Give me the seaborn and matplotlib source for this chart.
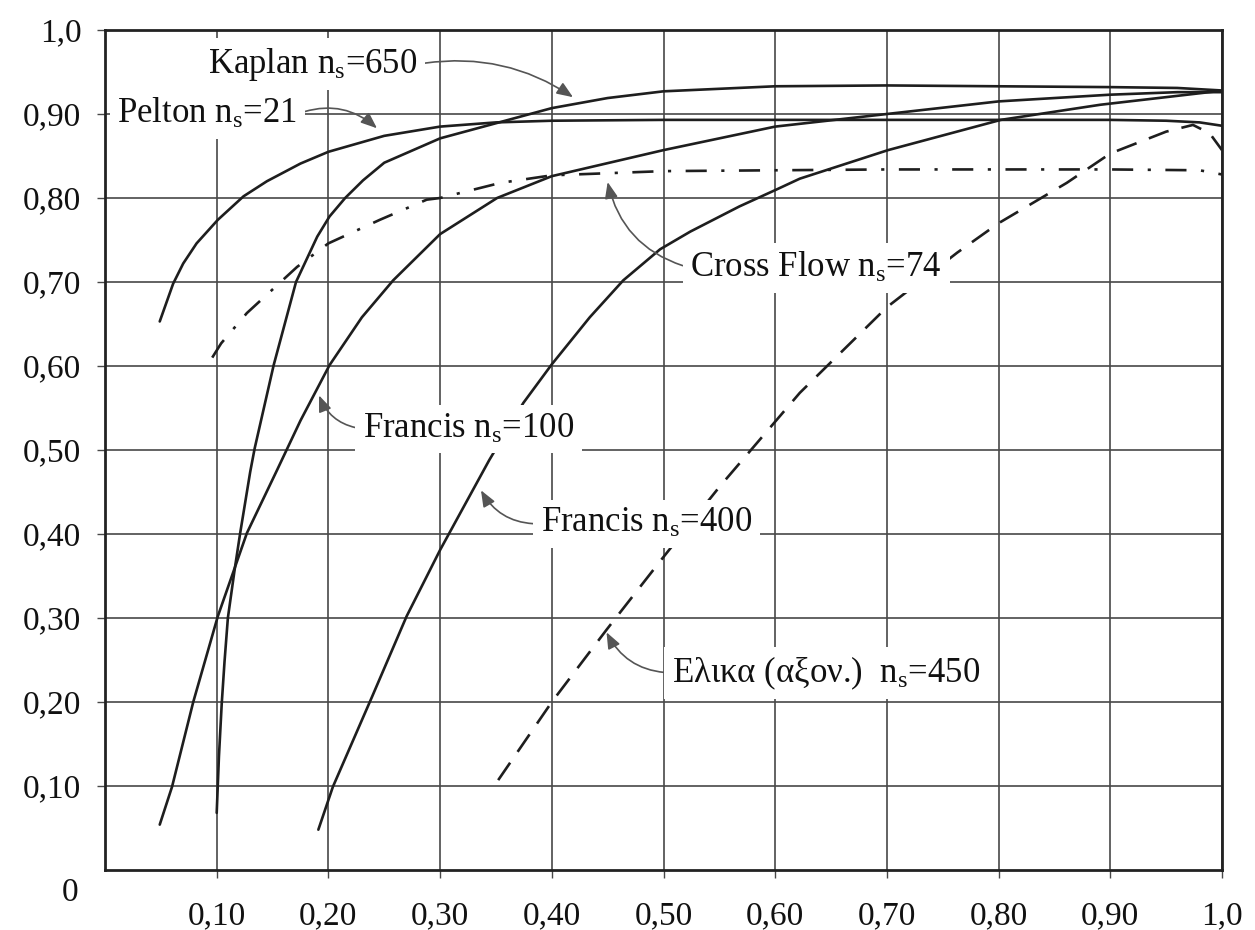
import numpy as np
import matplotlib
matplotlib.use("Agg")
import matplotlib.pyplot as plt
import seaborn as sns

# relative flow Q/Qn on x, efficiency on y
pelton_x = [0.049, 0.061, 0.070, 0.082, 0.101, 0.124, 0.145, 0.175, 0.20, 0.25, 0.30, 0.35,
            0.40, 0.50, 0.60, 0.70, 0.80, 0.90, 0.95, 0.98, 1.00]
pelton_y = [0.653, 0.698, 0.722, 0.746, 0.774, 0.802, 0.820, 0.841, 0.855, 0.874, 0.885,
            0.890, 0.892, 0.893, 0.893, 0.893, 0.893, 0.893, 0.892, 0.890, 0.886]

kaplan_x = [0.100, 0.102, 0.1045, 0.107, 0.110, 0.116, 0.121, 0.130, 0.134, 0.151, 0.171,
            0.190, 0.201, 0.215, 0.231, 0.25, 0.30, 0.35, 0.40, 0.45, 0.50, 0.60, 0.70,
            0.80, 0.90, 0.96, 1.00]
kaplan_y = [0.068, 0.135, 0.198, 0.248, 0.300, 0.357, 0.401, 0.474, 0.502, 0.601, 0.700,
            0.754, 0.778, 0.800, 0.821, 0.842, 0.871, 0.889, 0.907, 0.919, 0.927, 0.933,
            0.934, 0.933, 0.932, 0.931, 0.928]

francis100_x = [0.049, 0.060, 0.079, 0.101, 0.127, 0.154, 0.175, 0.201, 0.23, 0.258,
                0.30, 0.351, 0.40, 0.50, 0.60, 0.70, 0.80, 0.90, 0.96, 1.00]
francis100_y = [0.054, 0.099, 0.200, 0.302, 0.401, 0.476, 0.535, 0.601, 0.658, 0.702,
                0.757, 0.800, 0.826, 0.857, 0.885, 0.900, 0.915, 0.923, 0.926, 0.926]

francis400_x = [0.191, 0.204, 0.239, 0.270, 0.300, 0.344, 0.3745, 0.40, 0.434, 0.464, 0.497,
                0.524, 0.568, 0.601, 0.622, 0.701, 0.802, 0.891, 0.995, 1.00]
francis400_y = [0.048, 0.099, 0.206, 0.302, 0.381, 0.488, 0.556, 0.602, 0.658, 0.702, 0.739,
                0.760, 0.790, 0.810, 0.823, 0.857, 0.893, 0.911, 0.927, 0.927]

crossflow_x = [0.096, 0.104, 0.127, 0.172, 0.20, 0.246, 0.288, 0.30, 0.354, 0.40, 0.50, 0.60,
               0.70, 0.80, 0.90, 0.98, 1.00]
crossflow_y = [0.610, 0.627, 0.663, 0.718, 0.746, 0.774, 0.798, 0.800, 0.818, 0.827, 0.832,
               0.833, 0.834, 0.834, 0.834, 0.833, 0.828]

helix_x = [0.352, 0.40, 0.449, 0.499, 0.55, 0.622, 0.70, 0.763, 0.80, 0.861, 0.90,
           0.95, 0.974, 0.989, 1.00]
helix_y = [0.107, 0.200, 0.286, 0.371, 0.456, 0.568, 0.670, 0.735, 0.770, 0.818, 0.853,
           0.879, 0.887, 0.877, 0.857]

tick_vals = [0.1, 0.2, 0.3, 0.4, 0.5, 0.6, 0.7, 0.8, 0.9, 1.0]
tick_text = ["0,10", "0,20", "0,30", "0,40", "0,50", "0,60", "0,70", "0,80", "0,90", "1,0"]

sns.set_theme(style="white")
plt.rcParams["font.family"] = ["Liberation Serif", "DejaVu Serif"]
plt.rcParams["mathtext.fontset"] = "custom"
plt.rcParams["mathtext.rm"] = "Liberation Serif"
plt.rcParams["mathtext.it"] = "Liberation Serif:italic"

fig = plt.figure(figsize=(12.55, 9.3), dpi=100)
ax = fig.add_axes([105 / 1255, 60 / 930, 1117 / 1255, 840 / 930])

ink = "#1e1e1e"
lw = 1.9
sns.lineplot(x=pelton_x, y=pelton_y, ax=ax, color=ink, lw=lw, zorder=3)
sns.lineplot(x=kaplan_x, y=kaplan_y, ax=ax, color=ink, lw=lw, zorder=3)
sns.lineplot(x=francis100_x, y=francis100_y, ax=ax, color=ink, lw=lw, zorder=3)
sns.lineplot(x=francis400_x, y=francis400_y, ax=ax, color=ink, lw=lw, zorder=3)
sns.lineplot(x=crossflow_x, y=crossflow_y, ax=ax, color=ink, lw=lw, zorder=3,
             linestyle=(0, (8, 5.5, 1.2, 5.5)))
sns.lineplot(x=helix_x, y=helix_y, ax=ax, color=ink, lw=lw, zorder=3,
             linestyle=(0, (8, 5)))

ax.set_xlim(0, 1)
ax.set_ylim(0, 1)
ax.set_xticks(tick_vals)
ax.set_xticklabels(tick_text)
ax.set_yticks(tick_vals)
ax.set_yticklabels(tick_text)
ax.grid(True, color="#484848", lw=1.2)
ax.set_axisbelow(True)
ax.tick_params(axis="both", direction="out", length=6, width=1, color="#484848",
               labelsize=24, labelcolor="#111111")
ax.tick_params(axis="x", pad=16)
ax.tick_params(axis="y", pad=11)
ax.tick_params(left=True, bottom=True)
for s in ax.spines.values():
    s.set_color("#222222")
    s.set_linewidth(2)

# origin label sits below the corner
ax.text(-0.024, -0.027, "0", ha="right", va="center", fontsize=24, color="#111111",
        clip_on=False)

# curve labels with arrows
box = dict(boxstyle="square,pad=0.22", fc="white", ec="none")
arrow_col = "#555555"


def label(text, xy, xytext, side, rad):
    ax.annotate(text, xy=xy, xytext=xytext, ha="left", va="baseline", fontsize=25,
                color="#111111", bbox=box, zorder=6,
                arrowprops=dict(arrowstyle="-|>,head_length=0.7,head_width=0.28",
                                color=arrow_col, lw=1.2, shrinkA=0, shrinkB=0,
                                relpos=(side, 0.5), mutation_scale=14,
                                connectionstyle="arc3,rad=%s" % rad))


label(r"Kaplan n$_\mathrm{s}$=650", (0.419, 0.920), (0.092, 0.949), 1, -0.2)
label(r"Pelton n$_\mathrm{s}$=21", (0.2435, 0.883), (0.011, 0.889), 1, -0.3)
label(r"Cross Flow n$_\mathrm{s}$=74", (0.450, 0.819), (0.524, 0.706), 0, -0.3)
label(r"Francis n$_\mathrm{s}$=100", (0.1916, 0.565), (0.231, 0.515), 0, -0.3)
label(r"Francis n$_\mathrm{s}$=400", (0.3366, 0.452), (0.390, 0.402), 0, -0.3)
label(r"Ελικα (αξον.)  n$_\mathrm{s}$=450", (0.449, 0.283), (0.5076, 0.224), 0, -0.3)

fig.savefig("out.png", dpi=100)
